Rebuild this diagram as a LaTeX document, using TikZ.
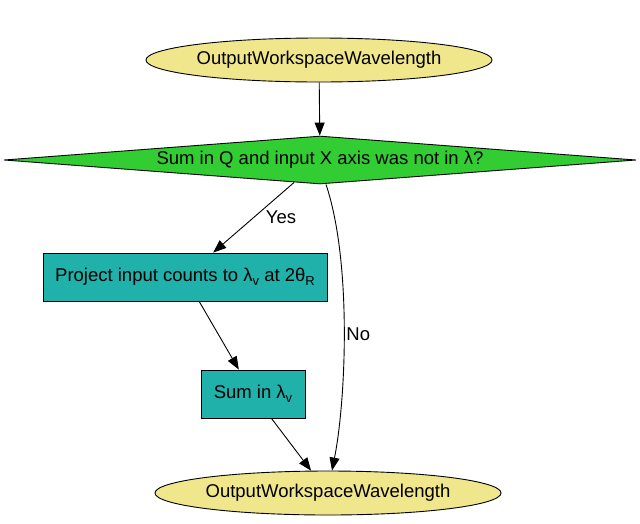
\documentclass[tikz,border=0pt]{standalone}
\usepackage{fontspec}
\setmainfont{Liberation Sans}
\usetikzlibrary{shapes.geometric,arrows.meta}
\definecolor{khakiC}{HTML}{F0E68C}
\definecolor{limeC}{HTML}{32CD32}
\definecolor{seaC}{HTML}{20B2AA}
\newcommand{\lowsub}[1]{\raisebox{-4.5pt}{\fontsize{13}{13}\selectfont #1}}
\begin{document}
\begin{tikzpicture}[x=1pt,y=-1pt,line width=0.9pt,
  every node/.style={font=\fontsize{18.5}{20}\selectfont},
  term/.style={ellipse,draw=black,fill=khakiC,minimum width=343pt,minimum height=44pt,inner sep=0pt},
  decide/.style={diamond,draw=black,fill=limeC,aspect=13.2,minimum width=632pt,minimum height=48pt,inner sep=0pt},
  proc/.style={rectangle,draw=black,fill=seaC,minimum height=48pt,inner sep=0pt},
  edge/.style={draw=black,-{Triangle[length=13pt,width=10pt]}},
  elabel/.style={fill=none,inner sep=0pt}]
\useasboundingbox (0,0) rectangle (640,523);
\node[term] (top) at (319,60) {OutputWorkspaceWavelength};
\node[decide] (dia) at (320,160) {Sum in Q and input X axis was not in λ?};
\node[proc,minimum width=284pt] (p1) at (185,277) {Project input counts to λ\lowsub{v} at 2θ\lowsub{R}};
\node[proc,minimum width=104pt] (p2) at (253,394) {Sum in λ\lowsub{v}};
\node[term] (bot) at (328,493) {OutputWorkspaceWavelength};
\draw[edge] (top) -- (dia);
\draw[edge] (dia) -- (p1);
\draw[edge] (p1) -- (p2);
\draw[edge] (p2) -- (bot);
\draw[edge] ([xshift=6pt]dia.south) .. controls (352,262) and (346,400) .. ([xshift=4pt]bot.north);
\node[elabel] (yes) at (281,217) {Yes};
\node[elabel,anchor=west] (no) at (346,334) {No};
\end{tikzpicture}
\end{document}
